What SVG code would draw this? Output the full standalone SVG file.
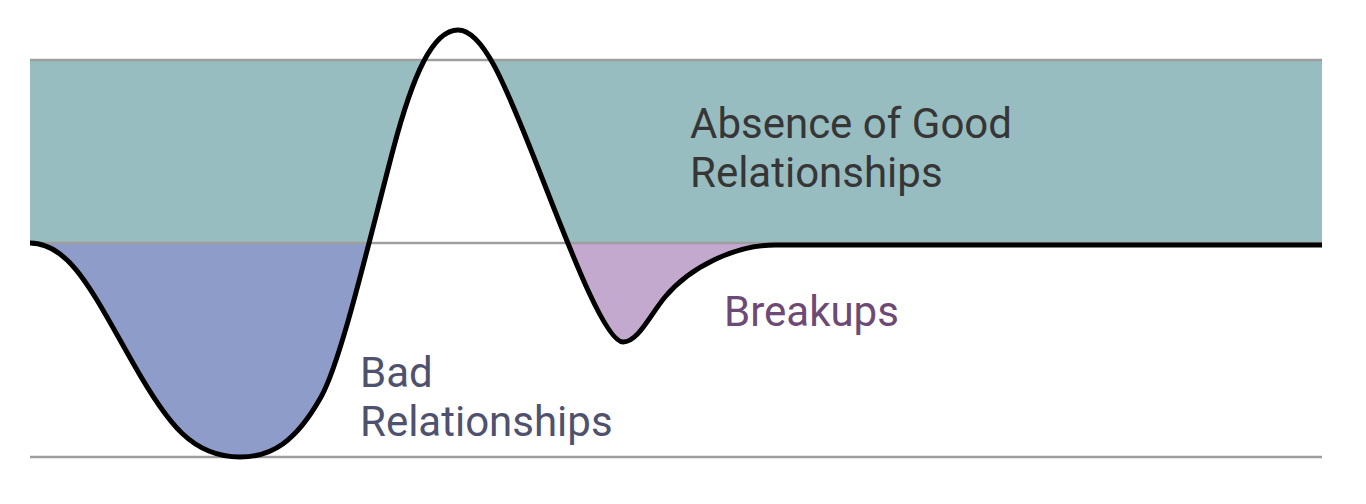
<svg xmlns="http://www.w3.org/2000/svg" width="1366" height="504" viewBox="0 0 1366 504">
  <style>
    .guide { stroke: #9e9e9e; stroke-width: 2.5; fill: none; }
    .curve { stroke: #000; stroke-width: 5; fill: none; stroke-linejoin: round; stroke-linecap: butt; }
    .label { font-family: Roboto, "Liberation Sans", sans-serif; font-size: 42px; }
  </style>
  <defs>
    <path id="curvePath" d="M30,243 C70,243 93,293 133,363 C168,425 193,457 240,457 C272,457 296,441.5 321,397 C341,361.4 368,245 393,150 C413,74 433,30 458,30 C483,30 505,85 531,150 C561,225 603,342 623,342 C638,342 650,315 665,297 C690,267 735,245 775,245 L1322,245"/>
    <path id="lobes" d="M30,243 C70,243 93,293 133,363 C168,425 193,457 240,457 C272,457 296,441.5 321,397 C341,361.4 368,245 393,150 C413,74 433,30 458,30 C483,30 505,85 531,150 C561,225 603,342 623,342 C638,342 650,315 665,297 C690,267 735,245 775,245 L1322,245 L1322,243 L30,243 Z"/>
    <clipPath id="clipBad"><rect x="0" y="243" width="460" height="261"/></clipPath>
    <clipPath id="clipBreak"><rect x="460" y="243" width="906" height="261"/></clipPath>
    <clipPath id="clipPeak"><rect x="0" y="0" width="1366" height="243"/></clipPath>
  </defs>
  <rect width="1366" height="504" fill="#ffffff"/>

  <g id="absence-of-good">
    <rect x="30" y="60" width="1292" height="183" fill="#98bdc1"/>
    <use href="#lobes" fill="#ffffff" clip-path="url(#clipPeak)"/>
  </g>

  <g id="bad-relationships">
    <use href="#lobes" fill="#8e9cc9" clip-path="url(#clipBad)"/>
  </g>

  <g id="breakups">
    <use href="#lobes" fill="#c4a9cf" clip-path="url(#clipBreak)"/>
  </g>

  <g id="guides">
    <line class="guide" x1="30" y1="60" x2="1322" y2="60"/>
    <line class="guide" x1="30" y1="243" x2="1322" y2="243"/>
    <line class="guide" x1="30" y1="457" x2="1322" y2="457"/>
  </g>

  <g id="connectors">
    <use href="#curvePath" class="curve"/>
  </g>

  <g id="labels">
    <text class="label" fill="#363636" x="690" y="138">Absence of Good</text>
    <text class="label" fill="#363636" x="690" y="187">Relationships</text>
    <text class="label" fill="#4f526f" x="360" y="387">Bad</text>
    <text class="label" fill="#4f526f" x="360" y="436">Relationships</text>
    <text class="label" fill="#6c4a75" x="724" y="326">Breakups</text>
  </g>
</svg>
